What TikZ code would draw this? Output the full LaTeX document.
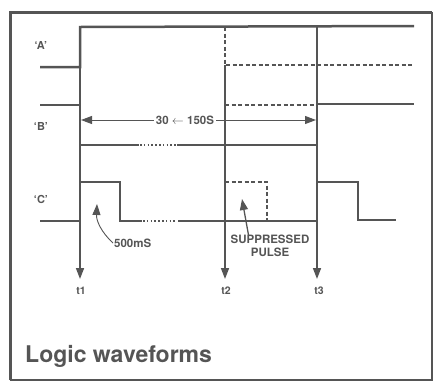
\documentclass[tikz,border=0pt]{standalone}
\usepackage{fontspec}
\setsansfont{TeX Gyre Heros}
\usepackage{tikz}
\usetikzlibrary{arrows.meta}
\definecolor{wgray}{HTML}{555555}

\begin{document}
\begin{tikzpicture}[x=1pt, y=-1pt,
  wave/.style={wgray, line width=2.5pt, line join=miter},
  marker/.style={wgray, line width=1.6pt},
  ghost/.style={wgray, line width=1.7pt, dash pattern=on 4pt off 2.5pt},
  dotty/.style={wgray, line width=1.7pt, dash pattern=on 1.6pt off 2.2pt},
  tip/.style={-{Triangle[length=11pt,width=8pt]}},
  lbl/.style={font=\sffamily\bfseries, text=wgray, inner sep=1pt}]
\useasboundingbox (0,0) rectangle (433,381);
% frame
\draw[wgray, line width=3pt] (10,380) -- (10,12) -- (432,12);
\draw[wgray, line width=1.2pt] (432,12) -- (432,380) -- (10,380);
% channel names
\node[lbl, font=\sffamily\bfseries\fontsize{11}{13}\selectfont] (nameA) at (41,45) {`A'};
\node[lbl, font=\sffamily\bfseries\fontsize{11}{13}\selectfont] (nameB) at (41,126) {`B'};
\node[lbl, font=\sffamily\bfseries\fontsize{11}{13}\selectfont] (nameC) at (41,199) {`C'};
% time markers
\coordinate (t1top) at (80,27);
\coordinate (t2top) at (225,65);
\coordinate (t3top) at (317,26);
\coordinate (t1end) at (80,279);
\coordinate (t2end) at (225,279);
\coordinate (t3end) at (317,279);
\node[lbl, font=\sffamily\bfseries\fontsize{10.5}{12}\selectfont] (t1) at (81,291) {t1};
\node[lbl, font=\sffamily\bfseries\fontsize{10.5}{12}\selectfont] (t2) at (226,291) {t2};
\node[lbl, font=\sffamily\bfseries\fontsize{10.5}{12}\selectfont] (t3) at (319,291) {t3};
\draw[marker, tip] (t1top) -- (t1end);
\draw[marker, tip] (t2top) -- (t2end);
\draw[marker, tip] (t3top) -- (t3end);
% waveform A
\draw[wave] (40,67) -- (80,67) -- (80,27) -- (414,26);
\draw[ghost] (225,27) -- (225,65) -- (414,65);
% waveform B
\draw[wave] (40,105) -- (80,105) -- (80,145) -- (139,145);
\draw[dotty] (140,145) -- (176,145);
\draw[wave] (177,145) -- (317,145) -- (317,104) -- (414,104);
\draw[ghost] (225,105) -- (317,105);
% period 30 - 150 s
\node[lbl, fill=white, font=\sffamily\bfseries\fontsize{11.5}{13}\selectfont, inner sep=2pt] (span) at (185,120) {30 $\leftarrow$ 150S};
\coordinate (spanL) at (81,120);
\coordinate (spanR) at (316,120);
\draw[marker, line width=1pt, tip] (span.west) -- (spanL);
\draw[marker, line width=1pt, tip] (span.east) -- (spanR);
% waveform C
\draw[wave] (40,221) -- (80,221) -- (80,182) -- (120,182) -- (120,221) -- (142,221);
\draw[dotty] (143,221) -- (177,221);
\draw[wave] (178,221) -- (317,221) -- (317,182) -- (358,182) -- (358,220) -- (396,220);
\draw[ghost] (225,182) -- (267,182) -- (267,221);
% pulse notes
\node[lbl, font=\sffamily\bfseries\fontsize{11.5}{13}\selectfont, anchor=west] (width) at (113,243) {500mS};
\coordinate (widthtip) at (97,204);
\draw[marker, line width=0.9pt, tip] (width.west) to[bend left=25] (widthtip);
\node[lbl, font=\sffamily\bfseries\fontsize{11.5}{13}\selectfont, align=center] (supp) at (270,246) {SUPPRESSED\\PULSE};
\coordinate (supptip) at (242,199);
\draw[marker, line width=1.3pt, tip] (supp.north west) ++(19,1) -- (supptip);
% caption
\node[lbl, font=\sffamily\bfseries\fontsize{23}{26}\selectfont, anchor=base west] (caption) at (24,362) {Logic waveforms};
\end{tikzpicture}
\end{document}
